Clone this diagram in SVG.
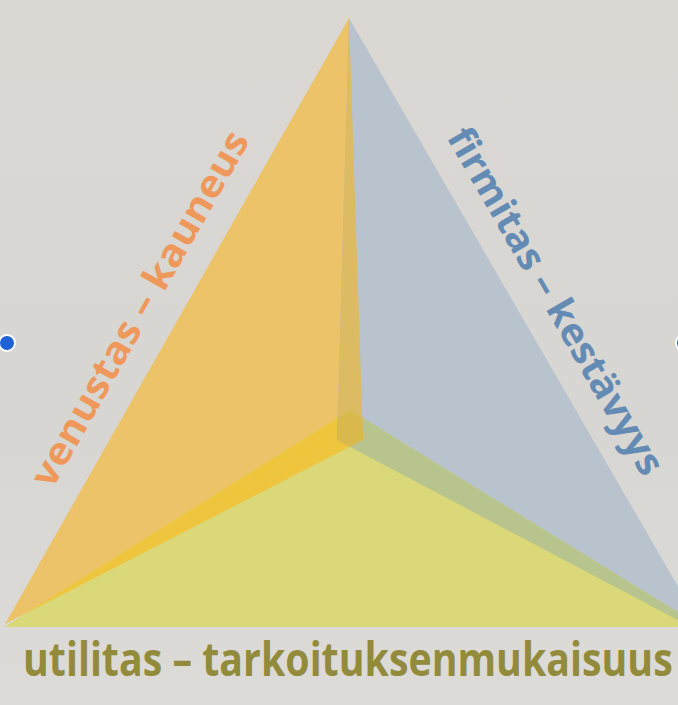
<svg xmlns="http://www.w3.org/2000/svg" xmlns:xlink="http://www.w3.org/1999/xlink" width="678" height="705" viewBox="0 0 678 705">
  <style>
    .lbl { font-family: "Open Sans", "Noto Sans", "DejaVu Sans", sans-serif; font-weight: 700; }
    .venustas { fill: #ee995b; font-size: 38px; }
    .firmitas { fill: #648bb4; font-size: 38px; }
    .utilitas { fill: #928b3b; font-size: 47px; }
    .handle { fill: #1f62d8; stroke: #ffffff; stroke-width: 2; }
  </style>
  <defs>
    <polygon id="pO" points="349,18 363,440 5,624"/>
    <polygon id="pB" points="349,18 337,440 706,635"/>
    <polygon id="pY" points="4,627 350,410 702,627"/>
    <clipPath id="cO"><use xlink:href="#pO"/></clipPath>
    <clipPath id="cB"><use xlink:href="#pB"/></clipPath>
    <clipPath id="cY"><use xlink:href="#pY"/></clipPath>
    <linearGradient id="bg" x1="0" y1="0" x2="0" y2="1">
      <stop offset="0" stop-color="#dbd8d4"/>
      <stop offset="0.6" stop-color="#d8d6d2"/>
      <stop offset="1" stop-color="#dddbd8"/>
    </linearGradient>
  </defs>

  <rect width="678" height="705" fill="url(#bg)"/>

  <g id="face-venustas"><use xlink:href="#pO" fill="#ecc368"/></g>
  <g id="face-firmitas"><use xlink:href="#pB" fill="#b8c3ce"/></g>
  <g id="face-utilitas"><use xlink:href="#pY" fill="#dad879"/></g>

  <g id="overlaps">
    <use xlink:href="#pY" clip-path="url(#cO)" fill="#eec53c"/>
    <use xlink:href="#pY" clip-path="url(#cB)" fill="#b7c48e"/>
    <use xlink:href="#pO" clip-path="url(#cB)" fill="#dcbb62"/>
    <g clip-path="url(#cY)"><use xlink:href="#pO" clip-path="url(#cB)" fill="#d9b84c"/></g>
  </g>

  <g id="label-venustas">
    <text class="lbl venustas" transform="translate(52,490) rotate(-60.45)" textLength="402" lengthAdjust="spacingAndGlyphs">venustas – kauneus</text>
  </g>
  <g id="label-firmitas">
    <text class="lbl firmitas" transform="translate(446,137) rotate(60)" textLength="394" lengthAdjust="spacingAndGlyphs">firmitas – kestävyys</text>
  </g>
  <g id="label-utilitas">
    <text class="lbl utilitas" transform="translate(23,676) scale(0.78,1)" x="0" y="0" textLength="833" lengthAdjust="spacingAndGlyphs">utilitas – tarkoituksenmukaisuus</text>
  </g>

  <circle class="handle" cx="7" cy="343" r="8"/>
  <circle class="handle" cx="684" cy="343" r="8"/>
</svg>
